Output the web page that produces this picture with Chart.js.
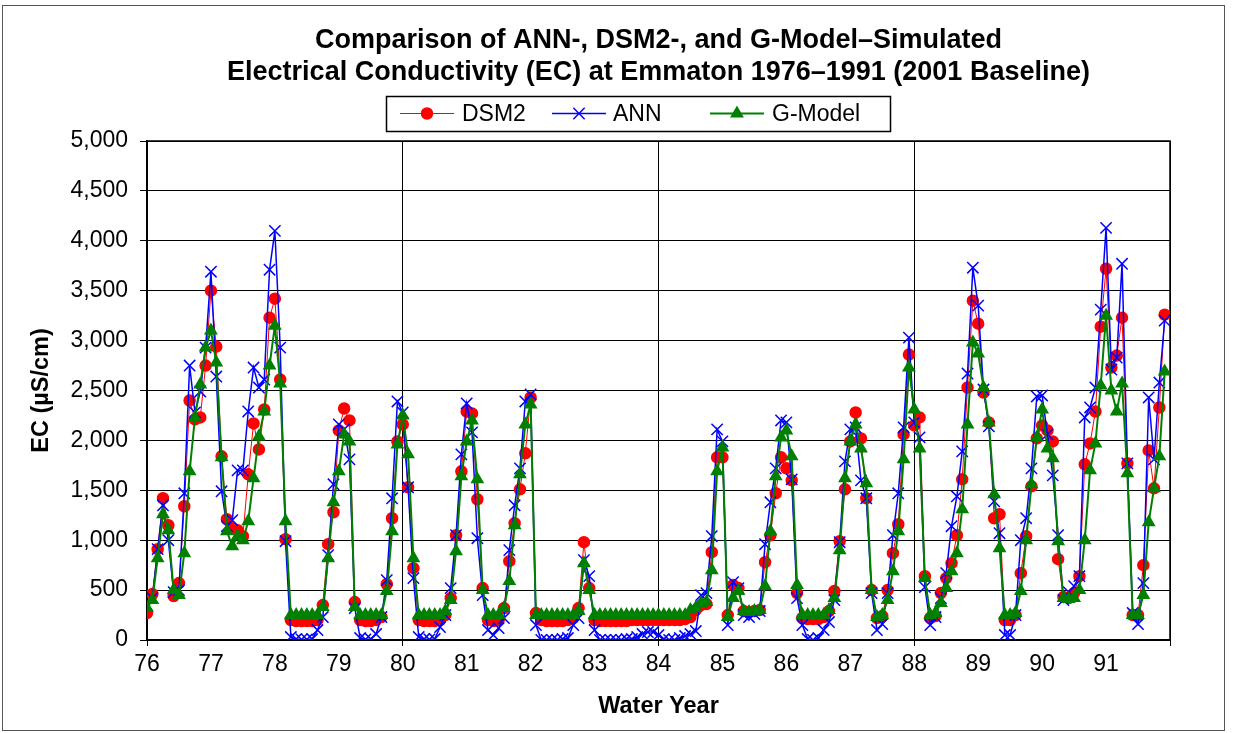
<!DOCTYPE html>
<html>
<head>
<meta charset="utf-8">
<title>EC at Emmaton 1976–1991</title>
<script src="https://cdn.jsdelivr.net/npm/chart.js@4.4.1/dist/chart.umd.min.js"></script>
<style>
  html, body { margin: 0; padding: 0; background: #fff; }
  #wrap { width: 1233px; height: 733px; }
</style>
</head>
<body>
<div id="wrap"><canvas id="ecChart" width="1233" height="733"></canvas></div>
<script>
// Data bulanan (Okt-Sep) per tahun air
const firstYear = 76;
const yearLabels = ['76', '77', '78', '79', '80', '81', '82', '83', '84', '85', '86', '87', '88', '89', '90', '91'];
const yTickLabels = ['0', '500', '1,000', '1,500', '2,000', '2,500', '3,000', '3,500', '4,000', '4,500', '5,000'];
const titleLines = [
    'Comparison of ANN-, DSM2-, and G-Model\u2013Simulated',
    'Electrical Conductivity (EC) at Emmaton 1976\u20131991 (2001 Baseline)'
];

const dsm2 = [
  270, 460, 910, 1420, 1150, 440, 570, 1340, 2400, 2210, 2230, 2750,     // 76
  3500, 2940, 1840, 1210, 1120, 1100, 1040, 1660, 2170, 1910, 2310, 3230, // 77
  3420, 2610, 1010, 200, 190, 190, 190, 190, 200, 350, 960, 1280,         // 78
  2100, 2320, 2200, 380, 200, 190, 190, 200, 230, 560, 1220, 1990,        // 79
  2160, 1530, 720, 200, 190, 190, 190, 200, 250, 420, 1050, 1690,         // 80
  2290, 2270, 1410, 520, 200, 190, 200, 320, 790, 1170, 1510, 1870,       // 81
  2430, 270, 200, 190, 190, 190, 190, 200, 220, 320, 980, 520,            // 82
  200, 190, 190, 190, 190, 190, 190, 200, 200, 200, 200, 200,             // 83
  200, 200, 200, 200, 200, 210, 230, 300, 350, 360, 880, 1830,            // 84
  1830, 250, 550, 520, 290, 280, 290, 300, 780, 1050, 1470, 1830,         // 85
  1720, 1600, 470, 220, 210, 210, 210, 230, 290, 490, 990, 1510,          // 86
  1990, 2280, 2020, 1420, 500, 220, 240, 500, 870, 1160, 2060, 2860,      // 87
  2150, 2230, 640, 220, 240, 470, 620, 770, 1050, 1610, 2530, 3400,       // 88
  3170, 2480, 2180, 1220, 1260, 200, 200, 250, 670, 1040, 1540, 2020,     // 89
  2150, 2100, 1990, 810, 430, 420, 470, 640, 1760, 1970, 2290, 3140,      // 90
  3720, 2730, 2850, 3230, 1770, 250, 250, 750, 1900, 1520, 2330, 3260     // 91
];

const ann = [
  350, 420, 910, 1350, 1000, 480, 500, 1470, 2750, 2280, 2490, 2930,      // 76
  3690, 2640, 1490, 1140, 1200, 1700, 1700, 2290, 2730, 2530, 2610, 3710, // 77
  4100, 2930, 990, 30, 10, 5, 5, 10, 100, 230, 850, 1560,                 // 78
  2160, 2110, 1810, 320, 20, 5, 10, 60, 230, 600, 1420, 2390,             // 79
  2280, 1530, 620, 30, 10, 5, 10, 130, 250, 520, 1050, 1860,              // 80
  2370, 2080, 1020, 450, 100, 50, 120, 220, 900, 1350, 1720, 2390,        // 81
  2460, 150, 0, 0, 0, 0, 10, 20, 150, 220, 800, 640,                      // 82
  100, 0, 0, 0, 0, 0, 10, 10, 30, 60, 80, 80,                             // 83
  50, 10, 0, 0, 20, 40, 60, 90, 450, 470, 1040, 2110,                     // 84
  1990, 150, 580, 520, 250, 230, 260, 290, 960, 1380, 1720, 2200,         // 85
  2180, 1610, 420, 150, 10, 0, 20, 100, 180, 400, 980, 1790,              // 86
  2110, 2130, 1600, 1420, 470, 100, 160, 470, 1050, 1470, 2130, 3030,     // 87
  2180, 2030, 530, 150, 230, 420, 670, 1140, 1440, 1890, 2670, 3730,      // 88
  3350, 2510, 2140, 1390, 1070, 50, 50, 250, 1000, 1220, 1720, 2440,      // 89
  2450, 2060, 1650, 1050, 400, 480, 540, 640, 2230, 2330, 2530, 3310,     // 90
  4130, 2710, 2830, 3770, 1770, 270, 160, 570, 2430, 1810, 2580, 3200     // 91
];

const gModel = [
  320, 400, 820, 1260, 1100, 500, 450, 870, 1690, 2230, 2560, 2930,       // 76
  3100, 2780, 1830, 1090, 940, 1040, 1000, 1190, 1620, 2040, 2290, 2750,  // 77
  3150, 2570, 1190, 250, 250, 250, 250, 250, 250, 330, 820, 1380,         // 78
  1690, 2060, 1990, 330, 250, 250, 250, 250, 250, 490, 1090, 1960,        // 79
  2250, 1860, 820, 250, 250, 250, 250, 250, 290, 400, 890, 1640,          // 80
  1990, 2200, 1610, 500, 250, 250, 250, 320, 590, 1150, 1660, 2160,       // 81
  2360, 250, 250, 250, 250, 250, 250, 250, 250, 290, 770, 500,            // 82
  250, 250, 250, 250, 250, 250, 250, 250, 250, 250, 250, 250,             // 83
  250, 250, 250, 250, 250, 250, 300, 320, 370, 380, 700, 1690,            // 84
  1930, 230, 420, 490, 290, 280, 290, 300, 540, 1090, 1640, 2030,         // 85
  2100, 1840, 550, 250, 250, 250, 250, 250, 300, 420, 900, 1620,          // 86
  1990, 2160, 1920, 1570, 500, 230, 250, 400, 690, 1090, 1810, 2730,      // 87
  2310, 1920, 620, 250, 270, 370, 520, 690, 870, 1310, 2160, 2980,        // 88
  2870, 2530, 2180, 1460, 920, 250, 250, 270, 490, 1000, 1560, 2030,      // 89
  2310, 1920, 1820, 990, 420, 410, 420, 500, 1000, 1700, 1970, 2550,      // 90
  3250, 2500, 2290, 2570, 1670, 250, 250, 450, 1180, 1520, 1840, 2690     // 91
];

const FONT = '"Liberation Sans", Arial, Helvetica, sans-serif';

// Ubah deret nilai bulanan menjadi titik {x: tahun air, y: EC}
function toPoints(values) {
    return values.map((v, i) => ({ x: firstYear + i / 12, y: v }));
}

// Definisi seri (urutan legenda sama dengan gambar)
const series = [
    { label: 'DSM2', data: dsm2, color: '#ff0000', lineWidth: 1, pointStyle: 'circle', radius: 5.5, order: 2 },
    { label: 'ANN', data: ann, color: '#0000ff', lineWidth: 1.5, pointStyle: 'crossRot', radius: 8, order: 1 },
    { label: 'G-Model', data: gModel, color: '#008000', lineWidth: 2, pointStyle: 'triangle', radius: 6.5, order: 0 }
];

// Bingkai luar, judul (dipusatkan di atas area plot) dan bingkai area plot
const framePlugin = {
    id: 'frames',
    beforeDraw(chart) {
        const c = chart.ctx;
        c.save();
        c.fillStyle = '#fff';
        c.fillRect(0, 0, chart.width, chart.height);
        c.strokeStyle = '#555';
        c.lineWidth = 1;
        c.strokeRect(2.5, 5.5, 1222, 725);

        const a = chart.chartArea;
        const cx = (a.left + a.right) / 2;
        c.fillStyle = '#000';
        c.font = 'bold 27px ' + FONT;
        c.textAlign = 'center';
        c.textBaseline = 'middle';
        titleLines.forEach((t, k) => c.fillText(t, cx, 41 + k * 32));
        c.restore();
    },
    beforeDatasetsDraw(chart) {
        const a = chart.chartArea;
        const c = chart.ctx;
        c.save();
        c.strokeStyle = '#000';
        c.lineWidth = 1.5;
        c.beginPath();
        c.moveTo(a.left, a.top);
        c.lineTo(a.right, a.top);
        c.lineTo(a.right, a.bottom);
        c.stroke();
        c.restore();
    }
};

// Legenda bergaya Excel: garis + penanda, di dalam kotak
const legendBox = { left: 386, top: 96, width: 504, height: 35 };
const legendItems = [
    { lineFrom: 400, lineTo: 454, textX: 462 },
    { lineFrom: 552, lineTo: 606, textX: 613 },
    { lineFrom: 710, lineTo: 764, textX: 772 }
];

const legendPlugin = {
    id: 'excelLegend',
    afterDraw(chart) {
        const c = chart.ctx;
        const midY = legendBox.top + legendBox.height / 2;
        c.save();
        c.strokeStyle = '#000';
        c.lineWidth = 1.5;
        c.strokeRect(legendBox.left + 0.5, legendBox.top + 0.5, legendBox.width, legendBox.height);

        series.forEach((s, k) => {
            const it = legendItems[k];
            c.strokeStyle = s.color;
            c.lineWidth = s.lineWidth;
            c.beginPath();
            c.moveTo(it.lineFrom, midY);
            c.lineTo(it.lineTo, midY);
            c.stroke();

            c.fillStyle = s.color;
            c.strokeStyle = s.color;
            c.lineWidth = 1.5;
            Chart.helpers.drawPoint(c, {
                pointStyle: s.pointStyle, radius: s.radius, rotation: 0, borderWidth: 1.5
            }, (it.lineFrom + it.lineTo) / 2, midY);

            c.fillStyle = '#000';
            c.font = '23px ' + FONT;
            c.textAlign = 'left';
            c.textBaseline = 'middle';
            c.fillText(s.label, it.textX, midY + 1);
        });
        c.restore();
    }
};

const ctx = document.getElementById('ecChart').getContext('2d');

const ecChart = new Chart(ctx, {
    type: 'line',
    data: {
        datasets: series.map(s => ({
            label: s.label,
            data: toPoints(s.data),
            borderColor: s.color,
            backgroundColor: s.color,
            borderWidth: s.lineWidth,
            pointStyle: s.pointStyle,
            pointRadius: s.radius,
            pointBorderWidth: 1.5,
            pointBackgroundColor: s.color,
            pointBorderColor: s.color,
            tension: 0,
            order: s.order
        }))
    },
    options: {
        responsive: false,
        animation: false,
        events: [],
        layout: { padding: { left: 0, right: 63, top: 141, bottom: 0 } },
        plugins: {
            legend: { display: false },
            tooltip: { enabled: false },
            title: { display: false }
        },
        scales: {
            x: {
                type: 'linear',
                min: firstYear,
                max: firstYear + yearLabels.length,
                afterFit: (scale) => { scale.height = 93; },
                afterBuildTicks: (scale) => {
                    scale.ticks = [];
                    for (let k = 0; k <= yearLabels.length; k++) {
                        scale.ticks.push({ value: firstYear + k });
                    }
                },
                ticks: {
                    autoSkip: false,
                    maxRotation: 0,
                    padding: 5,
                    color: '#000',
                    font: { family: FONT, size: 23 },
                    callback: (value) => yearLabels[value - firstYear] || ''
                },
                grid: {
                    color: (c) => (c.tick && (c.tick.value - firstYear) % 4 === 0) ? '#000' : 'rgba(0,0,0,0)',
                    lineWidth: 1,
                    tickLength: 6
                },
                border: { color: '#000', width: 2 },
                title: {
                    display: true,
                    text: 'Water Year',
                    color: '#000',
                    font: { family: FONT, size: 23.5, weight: 'bold' },
                    padding: { top: 0, bottom: 12 }
                }
            },
            y: {
                min: 0,
                max: 5000,
                afterFit: (scale) => { scale.width = 147; },
                ticks: {
                    stepSize: 500,
                    padding: 12,
                    color: '#000',
                    font: { family: FONT, size: 23 },
                    callback: (value) => yTickLabels[Math.round(value / 500)]
                },
                grid: { color: '#000', lineWidth: 1, tickLength: 7 },
                border: { color: '#000', width: 1.5 },
                title: {
                    display: true,
                    text: 'EC (\u00b5S/cm)',
                    color: '#000',
                    font: { family: FONT, size: 23.5, weight: 'bold' },
                    padding: { top: 27, bottom: 0 }
                }
            }
        }
    },
    plugins: [framePlugin, legendPlugin]
});
</script>
</body>
</html>
